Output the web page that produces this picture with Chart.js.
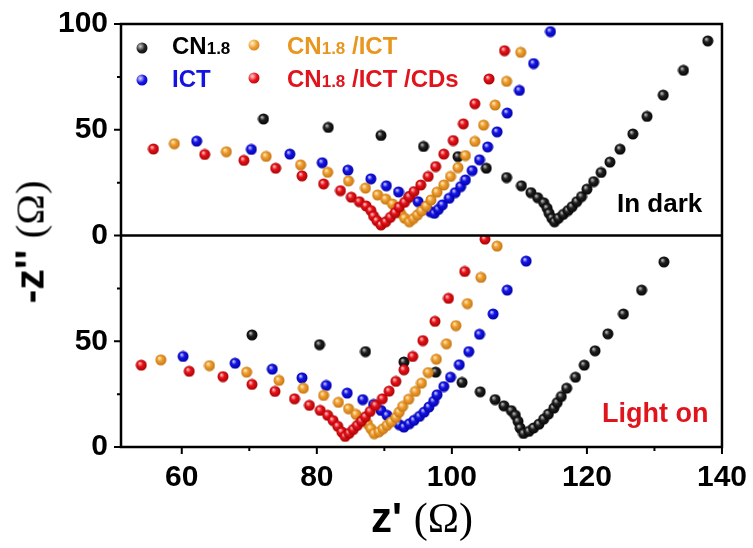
<!DOCTYPE html>
<html>
<head>
<meta charset="utf-8">
<script src="https://cdn.jsdelivr.net/npm/chart.js@4.4.1/dist/chart.umd.min.js"></script>
<style>
  body { margin: 0; background: #fff; }
  #wrap { position: relative; width: 753px; height: 548px; font-family: "Liberation Sans", Arial, sans-serif; }
  .lbl { position: absolute; font-weight: bold; line-height: 1; white-space: nowrap; }
  .lbl small { font-size: 17px; }
  .dot { position: absolute; width: 11px; height: 11px; border-radius: 50%; transform: translate(-50%, -50%); }
  .omega { font-family: "Liberation Serif", "Times New Roman", serif; font-weight: normal; }
</style>
</head>
<body>
<div id="wrap">
  <canvas id="eis" width="753" height="548"></canvas>

  <div class="dot" style="left:142px;top:48px;background:radial-gradient(circle at 35% 35%,#ccc 0,#222 45%,#000 100%)"></div>
  <div class="lbl" style="left:172px;top:34px;font-size:24px;color:#000">CN<small>1.8</small></div>
  <div class="dot" style="left:142px;top:80px;background:radial-gradient(circle at 35% 35%,#dde 0,#1515e8 45%,#0000a8 100%)"></div>
  <div class="lbl" style="left:172px;top:67px;font-size:24px;color:#1414e0">ICT</div>
  <div class="dot" style="left:254px;top:45px;background:radial-gradient(circle at 35% 35%,#fff2d0 0,#f0a030 45%,#c07010 100%)"></div>
  <div class="lbl" style="left:287px;top:34px;font-size:24px;color:#e8961e">CN<small>1.8</small> /ICT</div>
  <div class="dot" style="left:254px;top:78px;background:radial-gradient(circle at 35% 35%,#ffd0d0 0,#e8141c 45%,#a00000 100%)"></div>
  <div class="lbl" style="left:287px;top:67px;font-size:24px;color:#e0141c">CN<small>1.8</small> /ICT /CDs</div>

  <div class="lbl" style="left:617px;top:190px;font-size:26px;color:#000">In dark</div>
  <div class="lbl" style="left:602px;top:400px;font-size:27px;color:#e0141c">Light on</div>

  <div class="lbl" style="left:422px;top:518px;transform:translate(-50%,-50%);font-size:42px">z' <span class="omega">(&Omega;)</span></div>
  <div class="lbl" style="left:30px;top:242px;transform:translate(-50%,-50%) rotate(-90deg);font-size:41px">-z'' <span class="omega">(&Omega;)</span></div>
</div>
<script>
// In dark (top panel)
const cnDarkX = [72.1, 81.7, 89.5, 95.8, 100.9, 105.1, 108.1, 110.3, 111.7, 112.7, 113.6, 114.1, 114.4, 114.8, 115.2, 115.8, 116.5, 117.2, 117.8, 118.5, 119.2, 120.0, 121.0, 122.1, 123.4, 124.9, 126.8, 128.9, 131.3, 134.3, 137.9];
const cnDarkY = [55.1, 51.1, 47.3, 42.1, 37.3, 31.8, 27.4, 23.5, 20.3, 17.9, 15.5, 12.9, 10.5, 8.2, 6.5, 8.2, 10.0, 11.8, 13.6, 16.0, 18.4, 21.9, 25.5, 29.8, 34.7, 40.8, 48.0, 56.3, 66.4, 78.1, 92.0];
const ictDarkX = [62.2, 70.3, 76.0, 80.8, 84.6, 88.0, 90.3, 92.1, 93.7, 95.0, 96.1, 96.8, 97.4, 98.0, 98.6, 99.6, 100.5, 101.3, 102.0, 103.0, 104.1, 105.3, 106.7, 108.2, 110.0, 112.1, 114.6];
const ictDarkY = [44.6, 40.7, 38.5, 34.4, 30.9, 26.8, 23.5, 20.6, 18.4, 16.0, 13.7, 11.3, 10.5, 12.3, 14.5, 17.6, 20.3, 23.1, 26.3, 30.7, 35.8, 41.9, 49.0, 57.9, 68.6, 81.3, 96.4];
const cnIctDarkX = [58.9, 66.6, 72.5, 77.6, 81.6, 84.7, 87.2, 89.0, 90.2, 91.2, 91.9, 92.4, 93.0, 93.7, 94.3, 94.9, 95.5, 96.2, 96.9, 97.8, 98.8, 99.8, 100.9, 102.0, 103.4, 104.7, 106.4, 108.1, 110.2];
const cnIctDarkY = [43.4, 39.6, 37.4, 33.4, 29.9, 25.8, 22.4, 19.2, 17.2, 14.9, 12.9, 10.5, 8.2, 6.5, 8.0, 9.7, 11.6, 13.9, 16.8, 20.5, 23.9, 27.9, 32.1, 37.8, 44.5, 52.2, 61.7, 72.9, 86.6];
const cdsDarkX = [55.8, 63.4, 69.2, 73.9, 77.8, 81.0, 83.5, 85.1, 86.3, 87.3, 88.0, 88.4, 88.9, 89.5, 90.2, 90.9, 91.6, 92.2, 93.0, 93.7, 94.4, 95.4, 96.5, 97.6, 98.8, 100.2, 101.7, 103.4, 105.5, 107.8];
const cdsDarkY = [40.9, 38.3, 35.5, 31.8, 28.2, 24.4, 21.2, 18.1, 16.0, 14.0, 11.8, 9.2, 7.0, 5.0, 6.5, 8.6, 10.8, 13.4, 15.7, 18.4, 20.8, 23.9, 27.9, 32.6, 38.5, 44.9, 52.8, 62.3, 74.0, 87.4];

// Light on (bottom panel)
const cnLightX = [70.4, 80.4, 87.2, 92.9, 97.6, 101.5, 104.2, 106.4, 107.7, 108.8, 109.4, 109.8, 110.1, 110.6, 111.4, 112.1, 112.9, 113.6, 114.3, 115.1, 115.6, 116.2, 117.0, 118.3, 119.6, 121.2, 123.1, 125.4, 128.1, 131.4];
const cnLightY = [53.0, 48.4, 45.1, 40.2, 35.4, 30.5, 26.1, 22.4, 19.5, 17.2, 15.0, 12.1, 9.0, 6.4, 7.4, 9.0, 10.8, 13.2, 15.6, 18.4, 21.0, 23.9, 27.8, 33.0, 38.7, 45.5, 53.5, 62.9, 74.2, 87.5];
const ictLightX = [60.2, 67.9, 73.4, 77.8, 81.4, 84.5, 86.8, 88.4, 89.5, 90.4, 91.2, 92.2, 92.9, 93.7, 94.4, 95.2, 95.9, 96.6, 97.3, 97.8, 98.8, 99.8, 101.1, 102.5, 104.1, 106.1, 108.2, 111.0];
const ictLightY = [42.8, 39.6, 36.8, 32.7, 29.1, 25.5, 22.4, 20.1, 17.3, 15.0, 12.6, 10.6, 9.4, 11.0, 12.6, 14.5, 16.5, 18.9, 21.6, 24.7, 28.6, 33.0, 38.9, 45.1, 53.3, 62.9, 74.2, 87.9];
const cnIctLightX = [56.9, 64.1, 69.6, 74.4, 78.0, 81.0, 83.2, 84.7, 85.8, 86.8, 87.5, 88.0, 88.5, 89.2, 89.8, 90.4, 91.0, 91.7, 92.2, 92.7, 93.6, 94.6, 95.5, 96.5, 97.7, 99.2, 100.6, 102.3, 104.3, 106.7];
const cnIctLightY = [41.2, 38.5, 35.4, 31.5, 27.8, 24.4, 21.1, 18.1, 15.4, 13.1, 11.0, 8.7, 6.3, 7.2, 8.6, 10.2, 11.9, 14.0, 16.5, 19.2, 22.6, 26.3, 30.2, 35.2, 41.5, 48.8, 57.4, 67.8, 80.2, 95.0];
const cdsLightX = [54.0, 61.1, 66.1, 70.4, 73.8, 76.7, 78.9, 80.5, 81.6, 82.4, 83.1, 83.7, 84.2, 84.8, 85.4, 86.0, 86.6, 87.2, 87.9, 88.7, 89.7, 90.7, 91.7, 92.9, 94.2, 95.7, 97.5, 99.5, 101.9, 104.9];
const cdsLightY = [38.7, 35.8, 33.3, 29.6, 26.3, 22.8, 19.7, 17.3, 15.0, 12.5, 9.8, 7.1, 5.0, 6.5, 8.3, 10.2, 12.2, 14.3, 16.8, 19.7, 22.8, 26.4, 31.0, 36.5, 42.8, 50.3, 59.4, 70.3, 83.0, 98.3];

const xTicks = [60, 80, 100, 120, 140];
const xMinor = [70, 90, 110, 130];
const yTopTicks = [0, 50, 100];
const yBotTicks = [0, 50];
const yMinor = [25, 75];

function pts(xs, ys) {
    return xs.map((x, i) => ({ x: x, y: ys[i] }));
}

// small shaded ball used as point marker
function ball(hi, mid, edge) {
    const c = document.createElement('canvas');
    c.width = 12; c.height = 12;
    const g = c.getContext('2d');
    const grad = g.createRadialGradient(4.3, 4.0, 0.2, 6, 6, 6);
    grad.addColorStop(0, hi);
    grad.addColorStop(0.4, mid);
    grad.addColorStop(1, edge);
    g.fillStyle = grad;
    g.beginPath();
    g.arc(6, 6, 5.5, 0, Math.PI * 2);
    g.fill();
    return c;
}
const blackBall = ball('#c8c8c8', '#222', '#000');
const blueBall = ball('#d8d8ff', '#1515e8', '#0000a0');
const orangeBall = ball('#fff0c8', '#f0a030', '#c07010');
const redBall = ball('#ffd0d0', '#e8141c', '#a00000');

function ds(label, data, axis, style, order) {
    return { label: label, data: data, yAxisID: axis, pointStyle: style, pointRadius: 5, showLine: false, order: order };
}

const frame = {
    id: 'frame',
    afterDraw(chart) {
        const { ctx, chartArea: a, scales } = chart;
        ctx.save();
        ctx.strokeStyle = '#000';
        ctx.lineWidth = 2.5;
        ctx.strokeRect(a.left, a.top, a.right - a.left, a.bottom - a.top);
        const mid = scales.yBot.top;
        ctx.beginPath();
        ctx.moveTo(a.left, mid);
        ctx.lineTo(a.right, mid);
        ctx.stroke();
        ctx.lineWidth = 2;
        ctx.beginPath();
        xTicks.forEach(v => { const p = scales.x.getPixelForValue(v); ctx.moveTo(p, a.bottom); ctx.lineTo(p, a.bottom + 7); });
        xMinor.forEach(v => { const p = scales.x.getPixelForValue(v); ctx.moveTo(p, a.bottom); ctx.lineTo(p, a.bottom + 4); });
        [scales.yTop, scales.yBot].forEach(s => {
            [0, 50, 100].forEach(v => { const p = s.getPixelForValue(v); ctx.moveTo(a.left, p); ctx.lineTo(a.left - 7, p); });
            yMinor.forEach(v => { const p = s.getPixelForValue(v); ctx.moveTo(a.left, p); ctx.lineTo(a.left - 4, p); });
        });
        ctx.stroke();
        ctx.restore();
    }
};

const tickFont = { family: 'Liberation Sans', size: 30, weight: 'bold' };

new Chart(document.getElementById('eis'), {
    type: 'scatter',
    data: {
        datasets: [
            ds('CN1.8 dark', pts(cnDarkX, cnDarkY), 'yTop', blackBall, 4),
            ds('ICT dark', pts(ictDarkX, ictDarkY), 'yTop', blueBall, 3),
            ds('CN1.8/ICT dark', pts(cnIctDarkX, cnIctDarkY), 'yTop', orangeBall, 2),
            ds('CN1.8/ICT/CDs dark', pts(cdsDarkX, cdsDarkY), 'yTop', redBall, 1),
            ds('CN1.8 light', pts(cnLightX, cnLightY), 'yBot', blackBall, 4),
            ds('ICT light', pts(ictLightX, ictLightY), 'yBot', blueBall, 3),
            ds('CN1.8/ICT light', pts(cnIctLightX, cnIctLightY), 'yBot', orangeBall, 2),
            ds('CN1.8/ICT/CDs light', pts(cdsLightX, cdsLightY), 'yBot', redBall, 1)
        ]
    },
    options: {
        responsive: false,
        animation: false,
        layout: { padding: { left: 0, right: 29, top: 24, bottom: 0 } },
        plugins: { legend: { display: false }, tooltip: { enabled: false } },
        scales: {
            x: {
                type: 'linear', min: 51, max: 140,
                grid: { display: false, drawTicks: true, tickLength: 7 },
                border: { display: false },
                ticks: { font: tickFont, color: '#000', padding: 6 },
                afterBuildTicks: s => { s.ticks = xTicks.map(v => ({ value: v })); },
                afterFit: s => { s.height = 101; }
            },
            yBot: {
                type: 'linear', position: 'left', stack: 'panels', stackWeight: 1, min: 0, max: 100,
                grid: { display: false, drawTicks: true, tickLength: 7 },
                border: { display: false },
                ticks: { font: tickFont, color: '#000', padding: 6 },
                afterBuildTicks: s => { s.ticks = yBotTicks.map(v => ({ value: v })); },
                afterFit: s => { s.width = 121; }
            },
            yTop: {
                type: 'linear', position: 'left', stack: 'panels', stackWeight: 1, min: 0, max: 100,
                grid: { display: false, drawTicks: true, tickLength: 7 },
                border: { display: false },
                ticks: { font: tickFont, color: '#000', padding: 6 },
                afterBuildTicks: s => { s.ticks = yTopTicks.map(v => ({ value: v })); },
                afterFit: s => { s.width = 121; }
            }
        }
    },
    plugins: [frame]
});
</script>
</body>
</html>
